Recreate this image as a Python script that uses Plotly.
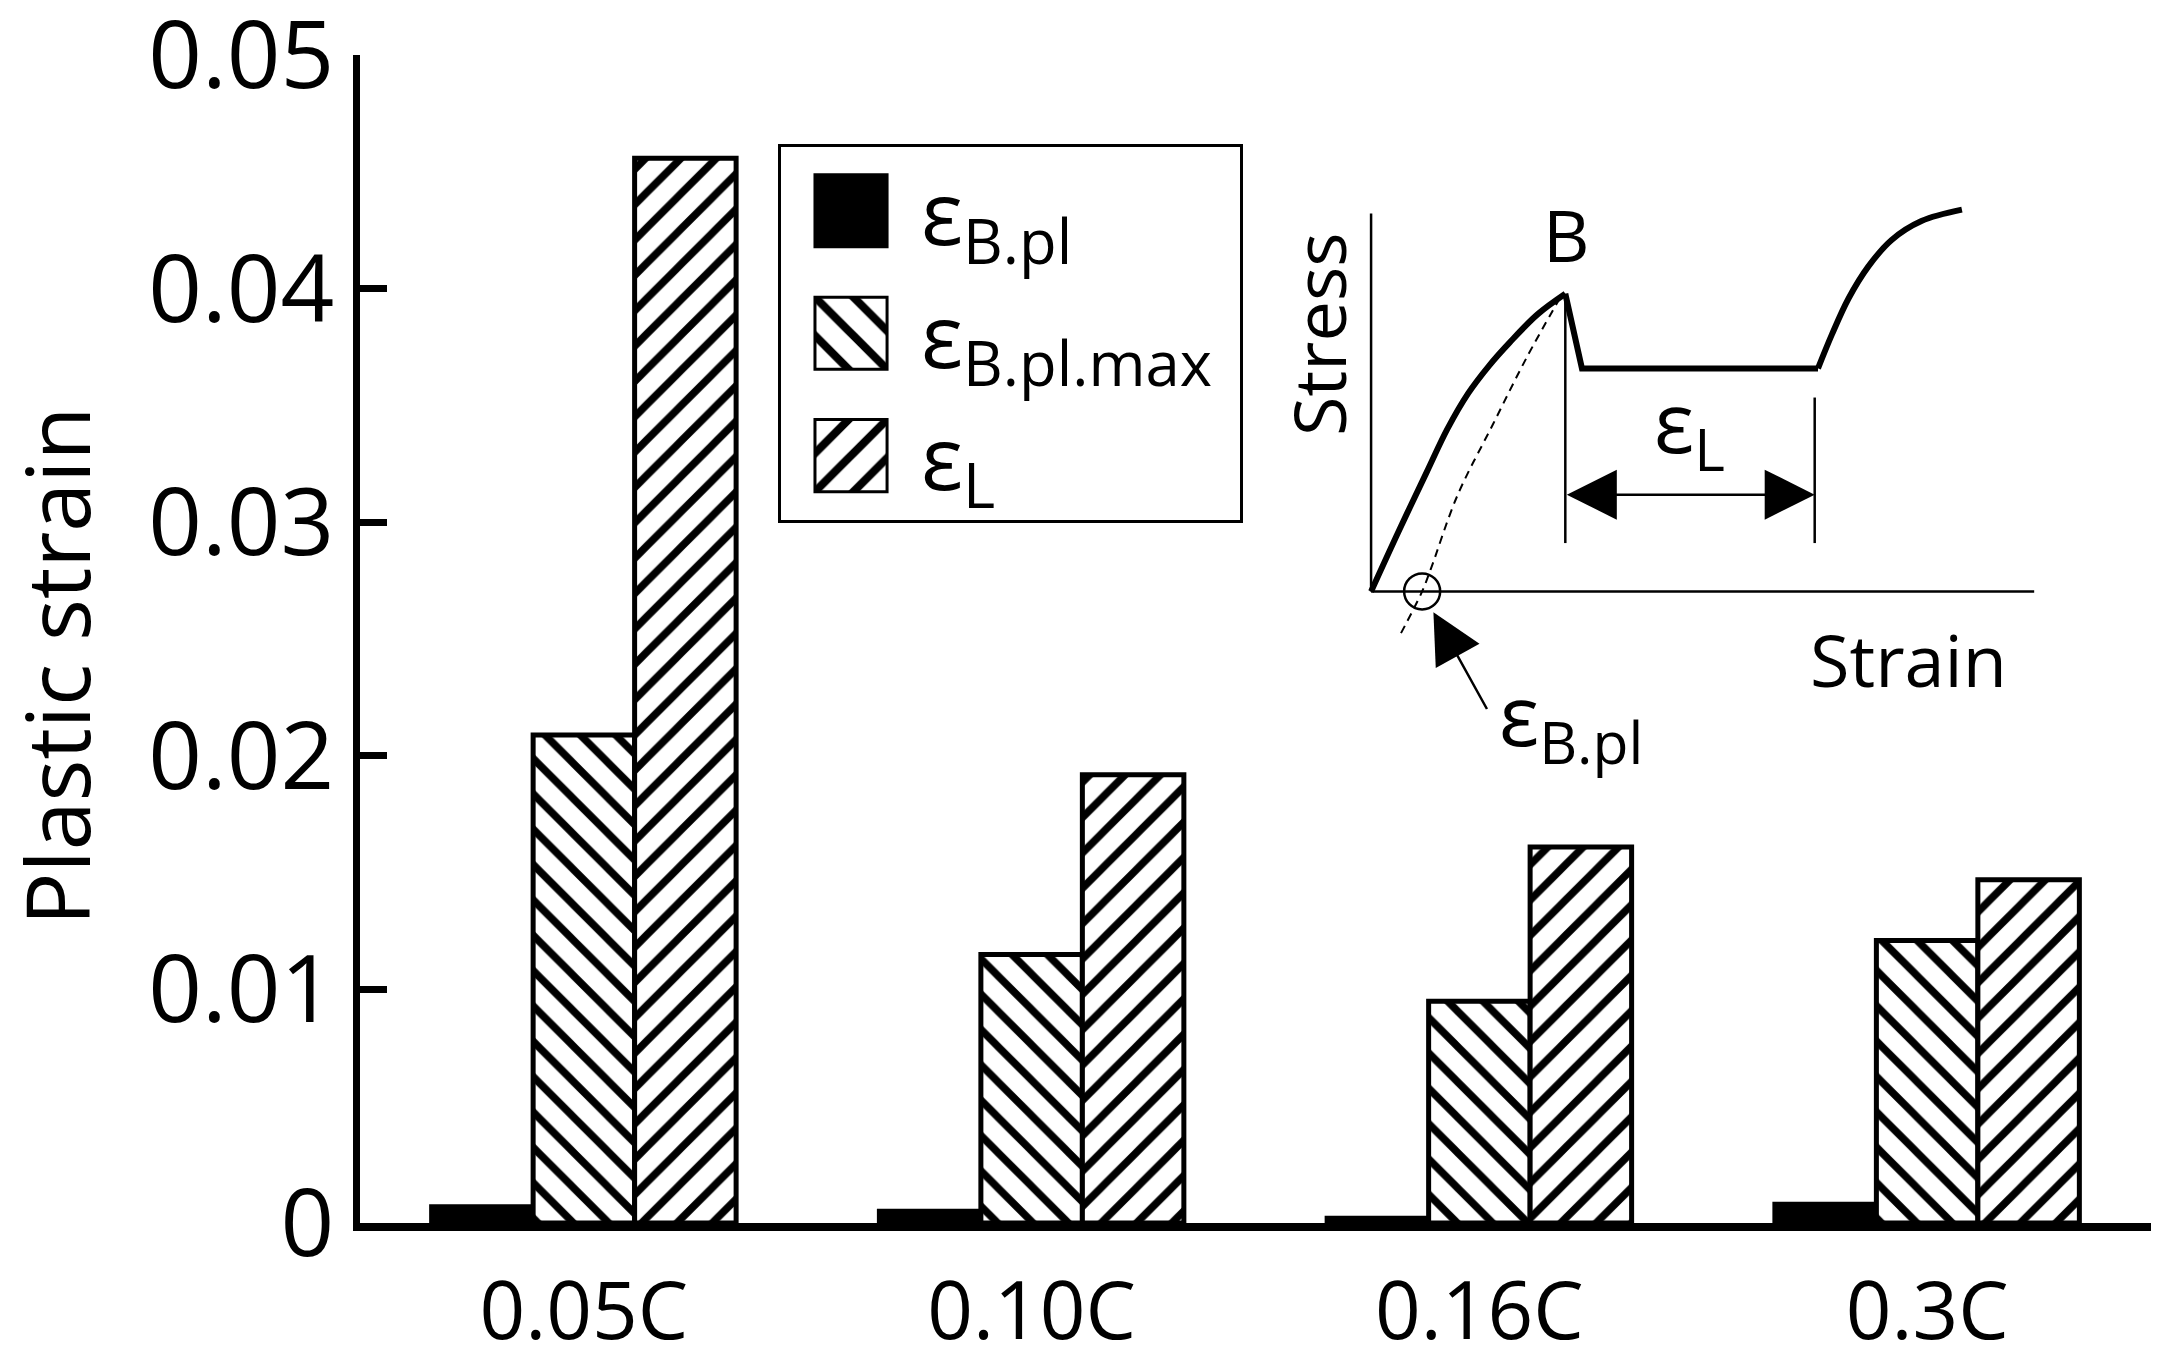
import plotly.graph_objects as go

# main chart data
categories = ['0.05C', '0.10C', '0.16C', '0.3C']
eps_b_pl = [0.0007, 0.0005, 0.0002, 0.0008]
eps_b_pl_max = [0.0209, 0.0115, 0.0095, 0.0121]
eps_l = [0.0456, 0.0192, 0.0161, 0.0147]
y_ticks = [0, 0.01, 0.02, 0.03, 0.04, 0.05]
y_tick_labels = ['0', '0.01', '0.02', '0.03', '0.04', '0.05']

# inset: schematic stress-strain curve (arbitrary units)
rise_strain = [0, 0.418, 0.837, 1.151, 1.464, 1.778, 2.092, 2.51, 2.929]
rise_stress = [0, 1.6, 3.15, 4.3, 5.24, 5.97, 6.59, 7.33, 7.875]
plateau_strain = [2.929, 3.18, 6.74]
plateau_stress = [7.875, 5.9, 5.9]
harden_strain = [6.74, 6.95, 7.2, 7.5, 7.85, 8.3, 8.91]
harden_stress = [5.9, 6.8, 7.75, 8.6, 9.3, 9.8, 10.1]
unload_strain = [2.85, 2.35, 1.84, 1.30, 0.90, 0.77, 0.44]
unload_stress = [7.77, 6.2, 4.43, 2.53, 0.59, 0.0, -1.14]
axis_v_strain, axis_v_stress = [0, 0], [0, 10]
axis_h_strain, axis_h_stress = [0, 10], [0, 0]
mark_b_strain, mark_b_stress = [2.929, 2.929], [7.875, 1.28]
mark_e_strain, mark_e_stress = [6.69, 6.69], [5.13, 1.28]
circle_strain, circle_stress = [0.77], [0]

FONT = 'Open Sans'

fig = go.Figure()

hatch = dict(size=25, solidity=0.3, fgcolor='black', bgcolor='white',
             fgopacity=1, fillmode='replace')
fig.add_trace(go.Bar(
    x=categories, y=eps_b_pl, name='ε<sub>B.pl</sub>', legendgroup='a',
    marker=dict(color='black', line=dict(color='black', width=5))))
fig.add_trace(go.Bar(
    x=categories, y=eps_b_pl_max, name='ε<sub>B.pl.max</sub>\u00a0', legendgroup='b',
    marker=dict(color='black', line=dict(color='black', width=5),
                pattern=dict(shape='\\', **hatch))))
fig.add_trace(go.Bar(
    x=categories, y=eps_l, name='ε<sub>L</sub>', legendgroup='c',
    marker=dict(color='black', line=dict(color='black', width=5),
                pattern=dict(shape='/', **hatch))))

# inset schematic
def inset_line(xs, ys, width, dash='solid', shape='linear'):
    fig.add_trace(go.Scatter(x=xs, y=ys, xaxis='x2', yaxis='y2', mode='lines',
                             line=dict(color='black', width=width, dash=dash, shape=shape),
                             showlegend=False, hoverinfo='skip'))

inset_line(axis_v_strain, axis_v_stress, 2.5)
inset_line(axis_h_strain, axis_h_stress, 2.5)
inset_line(rise_strain, rise_stress, 6, shape='spline')
inset_line(plateau_strain, plateau_stress, 6)
inset_line(harden_strain, harden_stress, 6, shape='spline')
inset_line(unload_strain, unload_stress, 2, dash='8px,6px', shape='spline')
inset_line(mark_b_strain, mark_b_stress, 2.5)
inset_line(mark_e_strain, mark_e_stress, 2.5)
fig.add_trace(go.Scatter(x=circle_strain, y=circle_stress, xaxis='x2', yaxis='y2', mode='markers',
                         marker=dict(symbol='circle-open', size=36, color='black', line=dict(width=2.5)),
                         showlegend=False, hoverinfo='skip', cliponaxis=False))

txt = dict(family=FONT, color='black')
annotations = [
    dict(text='Plastic strain', x=-0.1697, y=0.4765, xref='paper', yref='paper',
         xanchor='center', yanchor='middle',
         textangle=-90, showarrow=False, font=dict(size=88, **txt)),
    dict(text='B', x=2.95, y=9.45, xref='x2', yref='y2', showarrow=False, font=dict(size=72, **txt)),
    dict(text='Stress', x=-0.8, y=6.81, xref='x2', yref='y2', textangle=-90,
         showarrow=False, font=dict(size=72, **txt)),
    dict(text='Strain', x=8.1, y=-1.8, xref='x2', yref='y2', showarrow=False, font=dict(size=72, **txt)),
    dict(text='ε<sub>L</sub>', x=4.8, y=4.4, xref='x2', yref='y2', showarrow=False, font=dict(size=84, **txt)),
    dict(text='ε<sub>B.pl</sub>', x=3.02, y=-3.35, xref='x2', yref='y2', showarrow=False,
         font=dict(size=84, **txt)),
    dict(text='', x=6.69, y=2.56, ax=2.929, ay=2.56, xref='x2', yref='y2', axref='x2', ayref='y2',
         showarrow=True, arrowhead=2, startarrowhead=2, arrowside='end+start',
         arrowwidth=2.5, arrowsize=4, startarrowsize=4, arrowcolor='black'),
    dict(text='', x=0.94, y=-0.55, ax=1.76, ay=-3.15, xref='x2', yref='y2', axref='x2', ayref='y2',
         showarrow=True, arrowhead=2, arrowwidth=2.5, arrowsize=4, arrowcolor='black'),
]

# the page body adds an 8px margin, so the figure is 8px smaller each way
fig.update_layout(
    width=2160, height=1353,
    margin=dict(l=352, r=17, t=47, b=138, autoexpand=False),
    paper_bgcolor='white', plot_bgcolor='white',
    font=dict(family=FONT, size=88, color='black'),
    barmode='group', bargap=0.32, bargroupgap=0,
    showlegend=True,
    legend=dict(x=0.2334, y=0.9237, xanchor='left', yanchor='top',
                bordercolor='black', borderwidth=3, bgcolor='white',
                font=dict(family=FONT, size=88, color='black'),
                itemwidth=130, tracegroupgap=5, valign='middle',
                itemclick=False, itemdoubleclick=False),
    xaxis=dict(showline=True, linecolor='black', linewidth=8, ticks='', automargin=False,
               showgrid=False, zeroline=False, range=[-0.5, 3.5], ticklabelstandoff=12,
               tickfont=dict(family=FONT, size=80, color='black')),
    yaxis=dict(range=[0, 0.05002], showline=True, linecolor='black', linewidth=7,
               ticks='inside', ticklen=27, tickwidth=7, tickcolor='black', automargin=False,
               tickvals=y_ticks, ticktext=y_tick_labels, showgrid=False, zeroline=False,
               ticklabelstandoff=0, ticklabeloverflow='allow',
               tickfont=dict(family=FONT, size=94, color='black')),
    xaxis2=dict(domain=[0.5090, 0.9718], range=[-1.5, 11], anchor='y2', visible=False),
    yaxis2=dict(domain=[0.3789, 0.8967], range=[-5, 11], anchor='x2', visible=False),
    annotations=annotations,
)

# enlarge the legend swatches to match the original figure
post_js = """
(function() {
  var gd = document.getElementById('{plot_id}');
  var D = 'M10.6,10.6H-10.6V-10.6H10.6Z';
  function bigSwatches() {
    var ps = document.querySelectorAll('g.legendpoints path');
    for (var i = 0; i < ps.length; i++) {
      var p = ps[i];
      if (p.getAttribute('d') === D) continue;
      p.setAttribute('d', D);
      var t = p.getAttribute('transform') || '';
      p.setAttribute('transform', t.replace(/ ?scale\\([^)]*\\)/, '') + ' scale(3.4)');
      p.style.vectorEffect = 'non-scaling-stroke';
      p.style.strokeWidth = '3px';
    }
  }
  bigSwatches();
  setTimeout(bigSwatches, 50);
  setTimeout(bigSwatches, 300);
  setTimeout(bigSwatches, 1000);
  if (gd && gd.on) { gd.on('plotly_afterplot', bigSwatches); }
})();
"""

fig.write_html("out.html", post_script=post_js)
